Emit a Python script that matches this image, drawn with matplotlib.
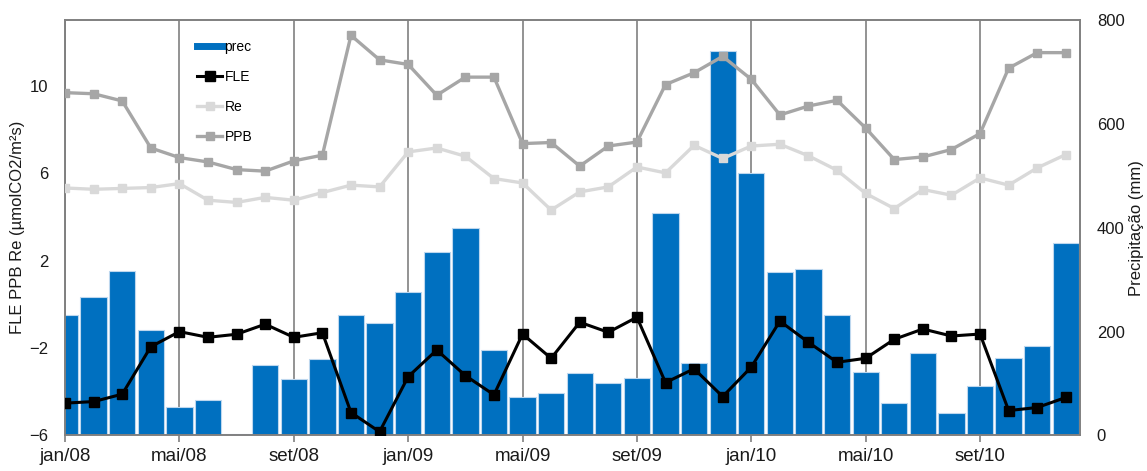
import numpy as np
import matplotlib.pyplot as plt
from matplotlib.lines import Line2D

plt.rcParams['font.family'] = ['Liberation Sans', 'DejaVu Sans']

# monthly series, jan/08 .. dez/10
months = ['jan', 'fev', 'mar', 'abr', 'mai', 'jun', 'jul', 'ago', 'set', 'out', 'nov', 'dez']
years = ['08', '09', '10']
labels = [f"{m}/{y}" for y in years for m in months]

prec = [232, 267, 317, 204, 54, 68, 3, 136, 109, 148, 232, 217,
        277, 354, 399, 165, 74, 81, 121, 102, 111, 429, 139, 741,
        505, 315, 320, 232, 123, 62, 158, 43, 96, 150, 172, 370]
fle = [-4.52, -4.45, -4.11, -1.94, -1.25, -1.51, -1.37, -0.91, -1.51, -1.30, -4.95, -5.83,
       -3.31, -2.09, -3.26, -4.14, -1.36, -2.47, -0.82, -1.28, -0.59, -3.58, -2.95, -4.22,
       -2.87, -0.77, -1.74, -2.65, -2.47, -1.60, -1.13, -1.45, -1.36, -4.86, -4.72, -4.26]
re = [5.32, 5.26, 5.30, 5.34, 5.52, 4.76, 4.66, 4.89, 4.76, 5.11, 5.45, 5.37,
      6.97, 7.15, 6.77, 5.75, 5.55, 4.31, 5.14, 5.37, 6.28, 6.01, 7.27, 6.67,
      7.24, 7.32, 6.79, 6.13, 5.07, 4.38, 5.25, 4.99, 5.78, 5.45, 6.24, 6.85]
ppb = [9.68, 9.63, 9.30, 7.15, 6.71, 6.51, 6.16, 6.09, 6.56, 6.82, 12.30, 11.18,
       10.97, 9.56, 10.39, 10.39, 7.35, 7.40, 6.32, 7.24, 7.42, 10.05, 10.59, 11.34,
       10.29, 8.66, 9.07, 9.33, 8.06, 6.62, 6.74, 7.08, 7.81, 10.80, 11.51, 11.51]

x = np.arange(len(labels))
blue = '#0070C0'
grid_c = '#808080'
txt_c = '#1a1a1a'

fig = plt.figure(figsize=(11.47, 4.71), dpi=100)
ax = fig.add_axes([0.0567, 0.0754, 0.885, 0.882])
ax2 = ax.twinx()

# precipitation bars on the right-hand scale
ax.bar(x, prec, width=0.92, color=blue, edgecolor='#BDD7EE', linewidth=0.8, zorder=2)
ax.set_ylim(0, 800)
ax.set_yticks([0, 200, 400, 600, 800])
ax.yaxis.tick_right()
ax.yaxis.set_label_position('right')
ax.set_ylabel('Precipitação (mm)', fontsize=12, color=txt_c, labelpad=3)
ax.tick_params(axis='y', length=0, pad=12, labelsize=12, labelcolor=txt_c)

ax.set_xlim(0, 35.5)
ticks = x[::4]
ax.set_xticks(ticks)
ax.set_xticklabels([labels[i] for i in ticks])
ax.tick_params(axis='x', length=5, width=1.2, color=grid_c, pad=4, labelsize=13.5, labelcolor=txt_c)
for t in ticks:
    ax.axvline(t, color=grid_c, lw=1.2, zorder=1)

# fluxes on the left-hand scale
ax2.yaxis.tick_left()
ax2.yaxis.set_label_position('left')
ax2.plot(x, re, color='#D9D9D9', lw=2.4, marker='s', ms=6, zorder=3)
ax2.plot(x, ppb, color='#A6A6A6', lw=2.4, marker='s', ms=6, zorder=3)
ax2.plot(x, fle, color='black', lw=2.2, marker='s', ms=7, zorder=4)
ax2.set_ylim(-6, 13)
ax2.set_yticks([-6, -2, 2, 6, 10])
ax2.tick_params(axis='y', length=0, pad=12, labelsize=12, labelcolor=txt_c)
ax2.set_ylabel('FLE PPB Re (µmolCO2/m²s)', fontsize=12, color=txt_c, labelpad=3)

for a in (ax, ax2):
    for s in a.spines.values():
        s.set_color(grid_c)
        s.set_linewidth(1.2)

handles = [
    Line2D([], [], color=blue, lw=5),
    Line2D([], [], color='black', lw=2.2, marker='s', ms=7),
    Line2D([], [], color='#D9D9D9', lw=2.4, marker='s', ms=6),
    Line2D([], [], color='#A6A6A6', lw=2.4, marker='s', ms=6),
]
fig.legend(handles, ['prec', 'FLE', 'Re', 'PPB'], loc='upper left',
           bbox_to_anchor=(0.166, 0.93), frameon=False, fontsize=10,
           handlelength=1.8, handletextpad=0.15, labelspacing=1.15, borderpad=0)

fig.savefig('out.png', dpi=100)
